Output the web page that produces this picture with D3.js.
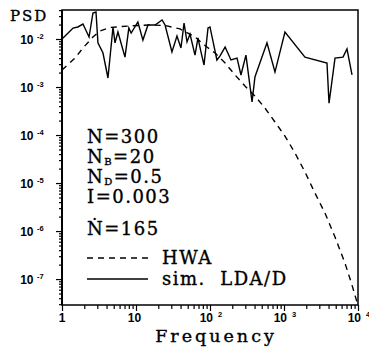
<!DOCTYPE html>
<html lang="en">
<head>
<meta charset="UTF-8">
<title>PSD spectrum</title>
<script src="https://d3js.org/d3.v7.min.js"></script>
<style>
    body { margin: 0; background: #fff; }
    .tick-label { font: bold 12px "Liberation Sans", sans-serif; fill: #000; }
    .serif { font-family: "DejaVu Serif", serif; fill: #000; stroke: #000; stroke-width: 0.35px; }
</style>
</head>
<body>
<script>
// HWA reference spectrum (dashed)
const freqHWA = [1, 1.5, 1.92, 2.62, 3.26, 4.46, 8.3, 15.5, 24.7, 39.3, 62.7, 91, 117, 160, 218, 297, 405,
    553, 755, 1030, 1410, 1920, 2620, 3580, 4890, 6670, 8300, 9690];
const psdHWA = [2.26e-3, 4.0e-3, 6.5e-3, 1.1e-2, 1.47e-2, 1.74e-2, 1.87e-2, 1.96e-2, 1.91e-2, 1.62e-2, 1.1e-2,
    6.8e-3, 5.1e-3, 3.16e-3, 1.78e-3, 1.05e-3, 6.5e-4, 3.65e-4, 1.87e-4, 9.5e-5, 4.2e-5, 1.7e-5, 6.2e-6,
    2.37e-6, 7.5e-7, 2.15e-7, 7.5e-8, 3.3e-8];

// simulated LDA/D spectrum (solid)
const freqLDA = [1, 1.21, 1.41, 1.64, 1.92, 2.32, 2.62, 2.88, 3.06, 3.58, 4.18, 4.89, 5.2, 5.7, 7.1, 8.0, 8.6,
    10.6, 12.4, 14.5, 18.1, 22.5, 24.7, 30.6, 35.8, 40.5, 44.6, 48.9, 53.7, 62.7, 68.8, 75.5, 83, 94, 100,
    124, 136, 160, 192, 232, 262, 306, 370, 405, 589, 755, 1030, 1920, 3810, 4060, 4890, 6270, 7100, 8300];
const psdLDA = [1.0e-2, 1.33e-2, 1.69e-2, 1.78e-2, 2.05e-2, 1.1e-2, 3.48e-2, 3.65e-2, 8.3e-3, 5.1e-3, 1.54e-3,
    1.78e-2, 8.3e-3, 1.4e-2, 4.2e-3, 1.69e-2, 1.33e-2, 2.26e-2, 9.5e-3, 1.96e-2, 1.96e-2, 2.49e-2, 1.96e-2,
    5.4e-3, 1.15e-2, 6.5e-3, 2.15e-2, 8.7e-3, 1.27e-2, 4.6e-3, 1.05e-2, 5.4e-3, 2.87e-3, 1.69e-2, 1.78e-2,
    3.65e-3, 4.4e-3, 6.8e-3, 3.65e-3, 4.0e-3, 1.78e-3, 4.6e-3, 4.9e-4, 1.62e-3, 8.3e-3, 2.05e-3, 1.4e-2,
    4.2e-3, 3.16e-3, 4.6e-4, 4.0e-3, 4.2e-3, 6.2e-3, 1.78e-3];

const xTickExps = [0, 1, 2, 3, 4];
const yTickExps = [-2, -3, -4, -5, -6, -7];
const params = [
    {base: "N", sub: "", value: "=300"},
    {base: "N", sub: "B", value: "=20"},
    {base: "N", sub: "D", value: "=0.5"},
    {base: "I", sub: "", value: "=0.003"},
    {base: "\u1E44", sub: "", value: "=165"}
];
const legendItems = [{name: "HWA", dash: "6,5"}, {name: "sim.  LDA/D", dash: null}];

const margin = {top: 10, right: 11, bottom: 45, left: 62};
const width = 369 - margin.left - margin.right;
const height = 350 - margin.top - margin.bottom;

const svg = d3.select("body").append("svg")
    .attr("width", 369)
    .attr("height", 350);

const g = svg.append("g")
    .attr("transform", `translate(${margin.left},${margin.top})`);

const x = d3.scaleLog().domain([1, 1e4]).range([0, width]);
const y = d3.scaleLog().domain([Math.pow(10, -7.54), Math.pow(10, -1.396)]).range([height, 0]);

// minor ticks
const xMinor = [];
for (let e = 0; e < 4; e++) for (let m = 2; m < 10; m++) xMinor.push(m * Math.pow(10, e));
const yMinor = [];
for (let e = -8; e < -1; e++) for (let m = 2; m < 10; m++) {
    const v = m * Math.pow(10, e);
    if (v >= y.domain()[0] && v <= y.domain()[1]) yMinor.push(v);
}

function styleAxis(sel) {
    sel.select(".domain").remove();
    sel.selectAll(".tick line").attr("stroke", "#000").attr("stroke-width", 1.2);
}

g.append("g").attr("transform", `translate(0,${height})`)
    .call(d3.axisBottom(x).tickValues(xMinor).tickSize(4).tickFormat(""))
    .call(styleAxis);
g.append("g").attr("transform", `translate(0,${height})`)
    .call(d3.axisBottom(x).tickValues(xTickExps.map(e => Math.pow(10, e))).tickSize(6).tickFormat(""))
    .call(styleAxis);
g.append("g")
    .call(d3.axisLeft(y).tickValues(yMinor).tickSize(3).tickFormat(""))
    .call(styleAxis);
g.append("g")
    .call(d3.axisLeft(y).tickValues(yTickExps.map(e => Math.pow(10, e))).tickSize(6).tickFormat(""))
    .call(styleAxis);

// frame
g.append("rect")
    .attr("width", width).attr("height", height)
    .attr("fill", "none").attr("stroke", "#000").attr("stroke-width", 1.5);
g.append("line").attr("x1", 0).attr("x2", 0).attr("y1", 0).attr("y2", height)
    .attr("stroke", "#000").attr("stroke-width", 2);

// x tick labels
xTickExps.forEach(e => {
    const tx = x(Math.pow(10, e));
    if (e < 2) {
        g.append("text").attr("class", "tick-label")
            .attr("x", tx - (e === 1 ? 1.5 : 0)).attr("y", height + 17)
            .attr("text-anchor", "middle").text(e === 0 ? "1" : "10");
    } else {
        g.append("text").attr("class", "tick-label")
            .attr("x", tx + 3).attr("y", height + 17)
            .attr("text-anchor", "end").text("10");
        g.append("text").attr("class", "tick-label").style("font-size", "7.5px")
            .attr("x", tx + 8).attr("y", height + 12).text(e);
    }
});

// y tick labels
yTickExps.forEach(e => {
    const ty = y(Math.pow(10, e));
    g.append("text").attr("class", "tick-label")
        .attr("x", -28.5).attr("y", ty + 4.5).attr("text-anchor", "end").text("10");
    g.append("text").attr("class", "tick-label").style("font-size", "7.5px")
        .attr("x", -25).attr("y", ty).text(e);
});

// curves
const line = d3.line().x(d => x(d[0])).y(d => y(d[1]));
g.append("path")
    .datum(freqHWA.map((f, i) => [f, psdHWA[i]]))
    .attr("d", line)
    .attr("fill", "none").attr("stroke", "#000").attr("stroke-width", 1.4)
    .attr("stroke-dasharray", "6,5");
g.append("path")
    .datum(freqLDA.map((f, i) => [f, psdLDA[i]]))
    .attr("d", line)
    .attr("fill", "none").attr("stroke", "#000").attr("stroke-width", 1.4);

// parameters text
const paramY = [133, 153, 173, 193, 225];
params.forEach((p, i) => {
    const t = g.append("text").attr("class", "serif")
        .attr("x", 25).attr("y", paramY[i])
        .style("font-size", "18px").style("letter-spacing", "1.5px");
    t.append("tspan").text(p.base);
    if (p.sub) {
        t.append("tspan").attr("dy", 2).style("font-size", "10px").text(p.sub);
        t.append("tspan").attr("dy", -2).text(p.value);
    } else {
        t.append("tspan").text(p.value);
    }
});

// legend
const legY = [248, 269];
legendItems.forEach((d, i) => {
    g.append("line")
        .attr("x1", 25).attr("x2", 86).attr("y1", legY[i]).attr("y2", legY[i])
        .attr("stroke", "#000").attr("stroke-width", 1.4)
        .attr("stroke-dasharray", d.dash);
    g.append("text").attr("class", "serif")
        .attr("x", 100).attr("y", legY[i] + 6)
        .style("font-size", "18px").style("letter-spacing", "1.5px")
        .style("white-space", "pre")
        .text(d.name);
});

// axis titles
svg.append("text").attr("class", "serif")
    .attr("x", 10).attr("y", 21)
    .style("font-size", "15px").style("letter-spacing", "2px")
    .text("PSD");
svg.append("text").attr("class", "serif")
    .attr("x", 216).attr("y", 342).attr("text-anchor", "middle")
    .style("font-size", "17.5px").style("letter-spacing", "3px")
    .text("Frequency");
</script>
</body>
</html>
